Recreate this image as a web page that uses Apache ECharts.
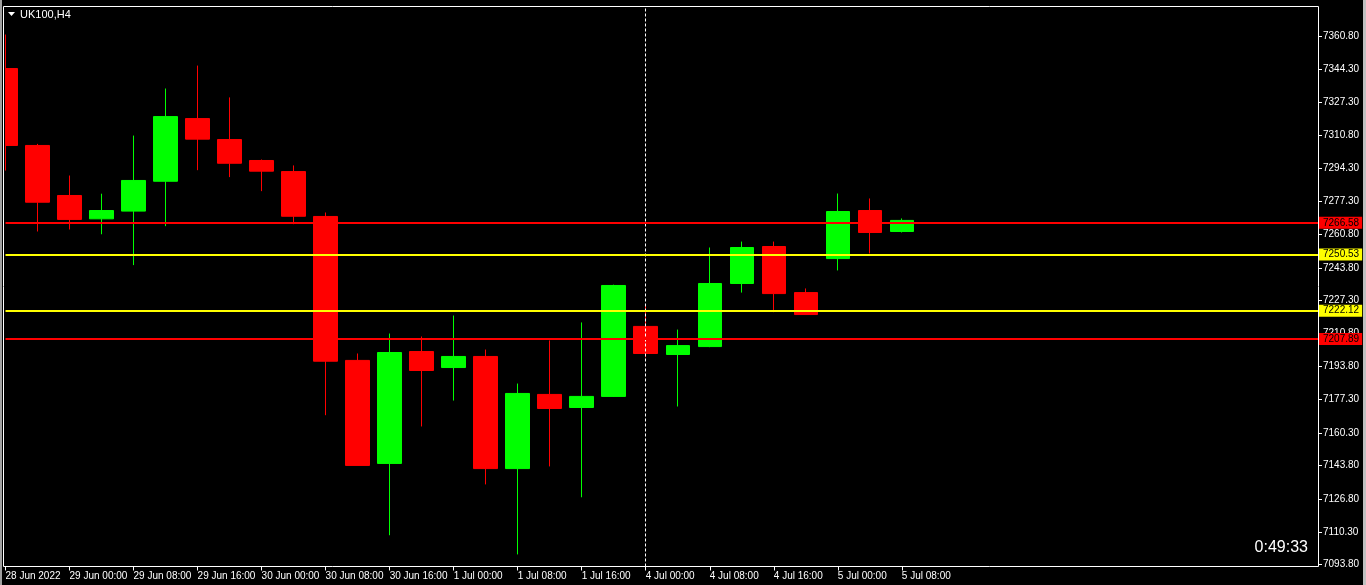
<!DOCTYPE html>
<html>
<head>
<meta charset="utf-8">
<script src="https://cdn.jsdelivr.net/npm/echarts@6/dist/echarts.min.js"></script>
<style>
  html, body { margin: 0; padding: 0; background: #000; }
  #chart { width: 1366px; height: 585px; }
</style>
</head>
<body>
<div id="chart"></div>
<script>
// ---- data ----
const symbolTitle = 'UK100,H4';
const countdown = '0:49:33';
const candleTimes = [
  '28 Jun 16:00','28 Jun 20:00','29 Jun 00:00','29 Jun 04:00','29 Jun 08:00','29 Jun 12:00',
  '29 Jun 16:00','29 Jun 20:00','30 Jun 00:00','30 Jun 04:00','30 Jun 08:00','30 Jun 12:00',
  '30 Jun 16:00','30 Jun 20:00','1 Jul 00:00','1 Jul 04:00','1 Jul 08:00','1 Jul 12:00',
  '1 Jul 16:00','1 Jul 20:00','4 Jul 00:00','4 Jul 04:00','4 Jul 08:00','4 Jul 12:00',
  '4 Jul 16:00','4 Jul 20:00','5 Jul 00:00','5 Jul 04:00','5 Jul 08:00'
];
const opens  = [7344.6,7305.7,7280.4,7268.6,7272.5,7287.6,7319.3,7308.7,7298.1,7292.5,7269.8,7197.0,7144.9,7201.5,7193.4,7199.0,7142.3,7179.8,7173.2,7178.8,7214.2,7200.0,7204.0,7235.9,7254.6,7231.3,7248.5,7272.8,7262.2];
const highs  = [7361.8,7306.5,7290.5,7281.3,7310.7,7334.5,7346.1,7330.0,7298.6,7295.6,7271.8,7200.5,7210.6,7209.1,7219.7,7202.5,7185.3,7207.1,7216.2,7235.3,7224.8,7212.6,7254.1,7257.1,7257.1,7233.4,7281.4,7278.9,7268.8];
const lows   = [7293.0,7262.2,7263.2,7260.8,7245.2,7264.9,7293.2,7289.7,7282.6,7265.9,7169.3,7143.9,7108.6,7163.6,7176.7,7134.3,7098.9,7143.4,7127.8,7178.5,7198.6,7173.7,7203.7,7231.3,7221.4,7220.2,7242.5,7251.1,7261.7];
const closes = [7305.7,7277.0,7268.3,7272.8,7288.0,7320.3,7308.9,7296.7,7292.7,7269.9,7196.6,7143.9,7201.0,7191.9,7199.0,7142.3,7180.3,7172.7,7178.8,7234.9,7200.5,7204.5,7235.9,7254.1,7230.8,7220.2,7272.3,7261.7,7267.8];
const xTickLabels = ['28 Jun 2022','29 Jun 00:00','29 Jun 08:00','29 Jun 16:00','30 Jun 00:00','30 Jun 08:00','30 Jun 16:00','1 Jul 00:00','1 Jul 08:00','1 Jul 16:00','4 Jul 00:00','4 Jul 08:00','4 Jul 16:00','5 Jul 00:00','5 Jul 08:00'];
const yTicks = [7093.80,7110.30,7126.80,7143.80,7160.30,7177.30,7193.80,7210.80,7227.30,7243.80,7260.80,7277.30,7294.30,7310.80,7327.30,7344.30,7360.80];
const redLevels = [7266.58, 7207.89];
const yellowLevels = [7250.53, 7222.12];
const separatorTime = '4 Jul 00:00';
const emptySlots = 13;

// ---- build ----
const categories = candleTimes.concat(Array.from({length: emptySlots}, (_, i) => 'pad' + i));
const ohlc = opens.map((o, i) => [o, closes[i], lows[i], highs[i]]);
const FONT = "'Liberation Sans', sans-serif";
const FS = 10;
const showTick = (idx) => idx % 2 === 0 && idx / 2 < xTickLabels.length;

function levelLine(v, color) {
  return {
    yAxis: v,
    lineStyle: { color: color, width: 2, type: 'solid' },
    label: {
      show: true, position: 'end', distance: 1,
      formatter: (p) => p.value.toFixed(2),
      color: '#000', backgroundColor: color,
      fontFamily: FONT, fontSize: FS, lineHeight: 11,
      padding: [1, 3, 0, 4]
    }
  };
}

const chart = echarts.init(document.getElementById('chart'), null, { renderer: 'canvas' });
chart.setOption({
  backgroundColor: '#000',
  animation: false,
  grid: { left: 5.5, right: 48, top: 6.5, bottom: 18.5, show: false },
  xAxis: {
    type: 'category',
    data: categories,
    boundaryGap: false,
    axisLine: { show: false },
    axisTick: { show: true, interval: showTick, length: 4, inside: false, lineStyle: { color: '#fff' } },
    axisLabel: {
      interval: showTick, formatter: (v, idx) => xTickLabels[idx / 2] || '',
      color: '#fff', fontFamily: FONT, fontSize: FS, align: 'left', margin: 5
    },
    splitLine: { show: false }
  },
  yAxis: {
    type: 'value',
    position: 'right',
    min: 7092.79,
    max: 7375.97,
    axisLine: { show: false },
    axisTick: { show: true, customValues: yTicks, length: 4, lineStyle: { color: '#fff' } },
    axisLabel: {
      customValues: yTicks, formatter: (v) => v.toFixed(2),
      color: '#fff', fontFamily: FONT, fontSize: FS, margin: 5
    },
    splitLine: { show: false }
  },
  series: [{
    type: 'candlestick',
    data: ohlc,
    barWidth: 24,
    clip: false,
    itemStyle: {
      color: '#00ff00', color0: '#ff0000',
      borderColor: '#00ff00', borderColor0: '#ff0000', borderWidth: 1
    },
    markLine: {
      symbol: ['none', 'none'],
      silent: true,
      animation: false,
      data: [
        { xAxis: separatorTime, lineStyle: { color: '#fff', width: 1, type: [3, 2] }, label: { show: false } },
        levelLine(redLevels[0], '#ff0000'),
        levelLine(yellowLevels[0], '#ffff00'),
        levelLine(yellowLevels[1], '#ffff00'),
        levelLine(redLevels[1], '#ff0000')
      ]
    }
  }],
  graphic: [
    { type: 'rect', z: 100, shape: { x: 0, y: 0, width: 5, height: 585 }, style: { fill: '#000' } },
    { type: 'rect', z: 101, shape: { x: 0, y: 0, width: 2, height: 585 }, style: { fill: '#a0a0a0' } },
    { type: 'rect', z: 101, shape: { x: 1363, y: 0, width: 3, height: 585 }, style: { fill: '#c0c0c0' } },
    { type: 'rect', z: 102, shape: { x: 3.5, y: 6.5, width: 1315, height: 560 }, style: { fill: 'none', stroke: '#fff', lineWidth: 1 } },
    { type: 'polygon', z: 102, shape: { points: [[8, 12], [15, 12], [11.5, 16]] }, style: { fill: '#fff' } },
    { type: 'text', z: 102, x: 20, y: 15, style: { text: symbolTitle, fill: '#fff', font: '11px ' + FONT, textVerticalAlign: 'middle' } },
    { type: 'text', z: 102, x: 1308, y: 548, style: { text: countdown, fill: '#fff', font: "16px 'Liberation Sans', sans-serif", textAlign: 'right', textVerticalAlign: 'middle' } }
  ]
});
</script>
</body>
</html>
